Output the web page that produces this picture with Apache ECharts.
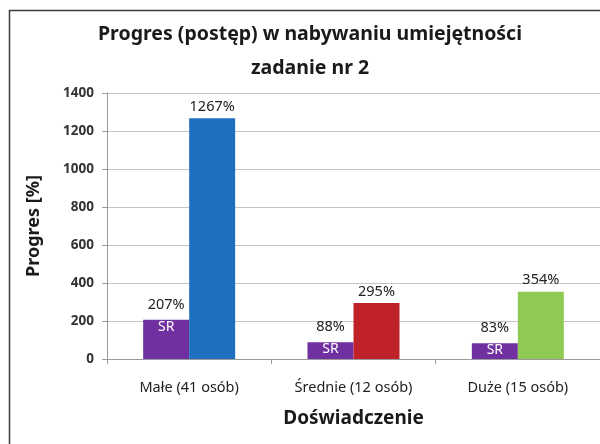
<!DOCTYPE html>
<html>
<head>
<meta charset="utf-8">
<script src="https://cdn.jsdelivr.net/npm/echarts@6/dist/echarts.min.js"></script>
<style>
  html, body { margin: 0; padding: 0; background: #fff; }
  #chart { width: 600px; height: 444px; }
</style>
</head>
<body>
<div id="chart"></div>
<script>
const categories = ['Małe (41 osób)', 'Średnie (12 osób)', 'Duże (15 osób)']
const srValues = [207, 88, 83]
const progresValues = [1267, 295, 354]
const progresColors = ['#1f6fc0', '#c0222a', '#8fca55']
const yTicks = { min: 0, max: 1400, interval: 200 }

const FONT = '"Noto Sans", "DejaVu Sans", sans-serif'

const chart = echarts.init(document.getElementById('chart'))

const option = {
  animation: false,
  backgroundColor: '#fff',
  title: {
    text: 'Progres (postęp) w nabywaniu umiejętności\nzadanie nr 2',
    left: 305,
    top: 12,
    textAlign: 'center',
    textStyle: {
      fontFamily: FONT,
      fontSize: 19.5,
      fontWeight: 'bold',
      color: '#1a1a1a',
      lineHeight: 34,
    },
  },
  graphic: [
    {
      type: 'rect',
      left: 7,
      top: 8,
      shape: { width: 620, height: 460 },
      style: { fill: 'none', stroke: '#3a3a3a', lineWidth: 1.5 },
      silent: true,
    },
  ],
  grid: {
    left: 107,
    top: 93,
    width: 495,
    height: 266,
    containLabel: false,
  },
  xAxis: {
    type: 'category',
    data: categories,
    axisLine: { lineStyle: { color: '#9a9a9a', width: 1 } },
    axisTick: { show: true, alignWithLabel: false, length: 5, lineStyle: { color: '#9a9a9a' } },
    axisLabel: {
      fontFamily: FONT,
      fontSize: 14.5,
      color: '#222',
      margin: 21,
    },
    name: 'Doświadczenie',
    nameLocation: 'middle',
    nameGap: 50,
    nameTextStyle: {
      fontFamily: FONT,
      fontSize: 19,
      fontWeight: 'bold',
      color: '#1a1a1a',
    },
  },
  yAxis: {
    type: 'value',
    min: yTicks.min,
    max: yTicks.max,
    interval: yTicks.interval,
    axisLine: { show: true, lineStyle: { color: '#9a9a9a' } },
    axisTick: { show: true, length: 5, lineStyle: { color: '#9a9a9a' } },
    splitLine: { lineStyle: { color: '#c9c2be', width: 1.2 } },
    axisLabel: {
      fontFamily: FONT,
      fontSize: 13.5,
      fontWeight: 'bold',
      color: '#333',
      margin: 13,
      formatter: (v) => String(v),
    },
    name: 'Progres [%]',
    nameLocation: 'middle',
    nameGap: 64,
    nameTextStyle: {
      fontFamily: FONT,
      fontSize: 18,
      fontWeight: 'bold',
      color: '#1a1a1a',
    },
  },
  series: [
    {
      name: 'ŚR',
      type: 'bar',
      data: srValues,
      barWidth: 46,
      barGap: '0%',
      itemStyle: { color: '#7030a0' },
      label: {
        show: true,
        position: 'insideTop',
        offset: [0, -31],
        formatter: (p) => `{v|${p.value}%}\n{s|ŚR}`,
        rich: {
          v: { fontFamily: FONT, fontSize: 14.5, color: '#222', lineHeight: 22 },
          s: { fontFamily: FONT, fontSize: 14, color: '#fff', lineHeight: 22 },
        },
      },
    },
    {
      name: 'Progres',
      type: 'bar',
      data: progresValues.map((v, i) => ({ value: v, itemStyle: { color: progresColors[i] } })),
      barWidth: 46,
      barGap: '0%',
      label: {
        show: true,
        position: 'top',
        distance: 4,
        formatter: '{c}%',
        fontFamily: FONT,
        fontSize: 14.5,
        color: '#222',
      },
    },
  ],
}

chart.setOption(option)
</script>
</body>
</html>
